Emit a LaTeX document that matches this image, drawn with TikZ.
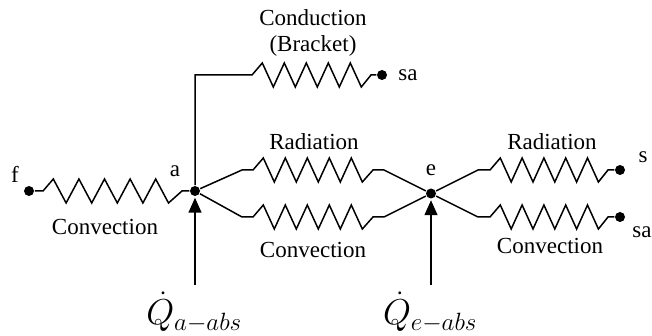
\documentclass[tikz,border=0pt]{standalone}
\usepackage{fix-cm}
\usepackage{fontspec}
\setmainfont{Liberation Serif}
\usetikzlibrary{arrows.meta, positioning}
\DeclareMathSizes{36}{36}{25}{18}

\tikzset{
  terminal/.style={circle, fill=black, inner sep=0pt, minimum size=10pt},
  lbl/.style={font=\fontsize{23}{27}\selectfont, inner sep=0pt},
  qlbl/.style={font=\fontsize{36}{40}\selectfont, inner sep=0pt},
  res/.style={to path={-- ++(10.3,-12)
      \foreach \i in {1,...,4} {-- ++(#1,24) -- ++(#1,-24)}
      -- ++(#1,24) -- (\tikztotarget)}},
  res/.default=11,
  heat/.style={-{Triangle[length=15pt, width=13pt]}, shorten >=1pt},
}

\begin{document}
\begin{tikzpicture}[x=1pt, y=-1pt, line width=1.5pt, line join=miter]
  \useasboundingbox (0,0) rectangle (652,336);

  \node[terminal] (f) at (29,191) {};
  \node[terminal] (a) at (195,191) {};
  \node[terminal] (e) at (431,193.5) {};
  \node[terminal] (sa1) at (382,75) {};
  \node[terminal] (s) at (620,170) {};
  \node[terminal] (sa2) at (620,217) {};

  \coordinate (fi) at (43,191);
  \coordinate (fo) at (182,191);
  \coordinate (corner) at (195,75);
  \coordinate (bi) at (252,75);
  \coordinate (bo) at (371,75);
  \coordinate (ri) at (253,170);
  \coordinate (ro) at (373,170);
  \coordinate (ci) at (253,217);
  \coordinate (co) at (373,217);
  \coordinate (rri) at (490,170);
  \coordinate (rro) at (608,170);
  \coordinate (cri) at (490,217);
  \coordinate (cro) at (608,217);
  \coordinate (qa) at (195,285);
  \coordinate (qe) at (431,285);

  % convection from f
  \draw (f) -- (fi) to[res=12.8] (fo) -- (a);

  % bracket
  \draw (a) -- (corner) -- (bi) to[res] (bo) -- (sa1);

  % a to e
  \draw (a) -- (242,170) -- (ri) to[res] (ro) -- (384,170) -- (e);
  \draw (a) -- (242,217) -- (ci) to[res] (co) -- (384,217) -- (e);

  % e to sinks
  \draw (e) -- (478,170) -- (rri) to[res=10.9] (rro) -- (s);
  \draw (e) -- (478,217) -- (cri) to[res=10.9] (cro) -- (sa2);

  % absorbed heat
  \draw[heat] (qa) -- (a);
  \draw[heat] (qe) -- (e);

  \node[lbl] (lf) at (15,174) {f};
  \node[lbl] (la) at (175,171) {a};
  \node[lbl] (le) at (431,170) {e};
  \node[lbl] (ls) at (643,157) {s};
  \node[lbl] (lsa1) at (408,75) {sa};
  \node[lbl] (lsa2) at (642,232) {sa};
  \node[lbl] (cond) at (313,18) {Conduction};
  \node[lbl] (brk) at (313,46) {(Bracket)};
  \node[lbl] (rad1) at (314,142) {Radiation};
  \node[lbl] (conv1) at (313,250) {Convection};
  \node[lbl] (conv0) at (105,227) {Convection};
  \node[lbl] (rad2) at (552,142) {Radiation};
  \node[lbl] (conv2) at (550,246) {Convection};
  \node[qlbl] (qla) at (194,312) {$\dot{Q}_{a-abs}$};
  \node[qlbl] (qle) at (430,312) {$\dot{Q}_{e-abs}$};
\end{tikzpicture}
\end{document}
